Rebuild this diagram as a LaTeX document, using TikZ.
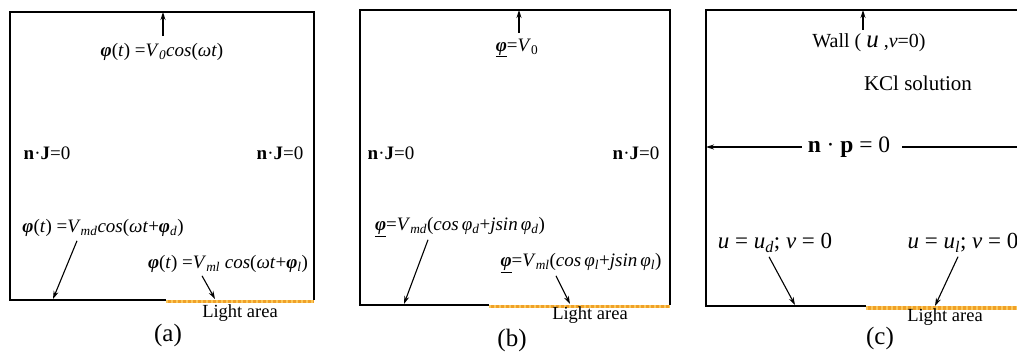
\documentclass[tikz,border=0pt]{standalone}
\usepackage{fontspec}
\setmainfont{Liberation Serif}
\usetikzlibrary{arrows.meta}
\newcommand{\vphi}{\textbf{\textit{φ}}}
\newcommand{\lo}[1]{\textsubscript{\textit{#1}}}

\begin{document}
\begin{tikzpicture}[x=1pt,y=-1pt,font=\fontsize{19}{22}\selectfont,
    every node/.style={inner sep=0pt},
    wall/.style={line width=1.5pt},
    pointer/.style={-{Stealth[length=8pt,width=5pt]},line width=1.1pt},
    light/.style={line width=3.5pt,draw={rgb,255:red,240;green,160;blue,40}},
    lightdots/.style={line width=3.5pt,draw={rgb,255:red,250;green,200;blue,90},
      dash pattern=on 2pt off 3pt},
    area/.style={font=\fontsize{18.5}{22}\selectfont},
    caption/.style={font=\fontsize{25}{29}\selectfont}]
  \useasboundingbox (0,0) rectangle (1017,352);

  % (a)
  \draw[wall] (166,300) -- (10,300) -- (10,12) -- (314,12) -- (314,300);
  \draw[light] (166,301.5) -- (314,301.5);
  \draw[lightdots] (166,301.5) -- (314,301.5);
  \coordinate (topA) at (163,12);
  \coordinate (darkA) at (53,299);
  \coordinate (lightA) at (215,299);
  \node (srcA) at (162,52) {\vphi(\textit{t}) =\textit{V}\lo{0}\textit{cos}(\textit{ωt})};
  \node (lwA) at (47,153) {\textbf{n}·\textbf{J}=0};
  \node (rwA) at (280,153) {\textbf{n}·\textbf{J}=0};
  \node (mdA) at (103,228) {\vphi(\textit{t}) =\textit{V}\lo{md}\textit{cos}(\textit{ωt}+\vphi\lo{d})};
  \node (mlA) at (228,264) {\vphi(\textit{t}) =\textit{V}\lo{ml} \textit{cos}(\textit{ωt}+\vphi\lo{l})};
  \node[area] (laA) at (240,313) {Light area};
  \node[caption] (capA) at (168,335) {(a)};
  \draw[pointer] ([yshift=7pt]srcA.north -| topA) -- (topA);
  \draw[pointer] ([xshift=-26pt,yshift=-4pt]mdA.south) -- (darkA);
  \draw[pointer] ([xshift=-26pt,yshift=-3pt]mlA.south) -- (lightA);

  % (b)
  \draw[wall] (489,305) -- (360,305) -- (360,10) -- (670,10) -- (670,305);
  \draw[light] (489,306.5) -- (670,306.5);
  \draw[lightdots] (489,306.5) -- (670,306.5);
  \coordinate (topB) at (519,10);
  \coordinate (darkB) at (404,304);
  \coordinate (lightB) at (570,304);
  \node (srcB) at (517,48) {\underline{\vphi}=\textit{V}\textsubscript{0}};
  \node (lwB) at (391,153) {\textbf{n}·\textbf{J}=0};
  \node (rwB) at (636,153) {\textbf{n}·\textbf{J}=0};
  \node (mdB) at (460,227) {\underline{\vphi}=\textit{V}\lo{md}(\textit{cos}\,\textit{φ}\lo{d}+\textit{jsin}\,\textit{φ}\lo{d})};
  \node (mlB) at (581,263) {\underline{\vphi}=\textit{V}\lo{ml}(\textit{cos}\,\textit{φ}\lo{l}+\textit{jsin}\,\textit{φ}\lo{l})};
  \node[area] (laB) at (590,315) {Light area};
  \node[caption] (capB) at (512,340) {(b)};
  \draw[pointer] ([yshift=6pt]srcB.north -| topB) -- (topB);
  \draw[pointer] ([xshift=-32pt,yshift=-3pt]mdB.south) -- (darkB);
  \draw[pointer] ([xshift=-25pt,yshift=-3pt]mlB.south) -- (lightB);

  % (c)
  \draw[wall] (866,306) -- (706,306) -- (706,10) -- (1017,10);
  \draw[light] (866,308) -- (1017,308);
  \draw[lightdots] (866,308) -- (1017,308);
  \coordinate (topC) at (863,10);
  \coordinate (leftC) at (706,147);
  \coordinate (rightC) at (1017,147);
  \coordinate (darkC) at (795,305);
  \coordinate (lightC) at (935,306);
  \node (wallC) at (869,43) {\fontsize{20}{23}\selectfont Wall ( \textit{\fontsize{25}{25}\selectfont u} ,\textit{v}=0)};
  \node[font=\fontsize{21}{24}\selectfont] (kclC) at (918,83) {KCl solution};
  \node[font=\fontsize{23.5}{27}\selectfont] (npC) at (849,147) {\textbf{n} · \textbf{p} = 0};
  \node[font=\fontsize{23}{27}\selectfont] (udC) at (775,243) {\textit{u} = \textit{u}\lo{d}; \textit{v} = 0};
  \node[font=\fontsize{23}{27}\selectfont] (ulC) at (963,243) {\textit{u} = \textit{u}\lo{l}; \textit{v} = 0};
  \node[area] (laC) at (945,317) {Light area};
  \node[caption] (capC) at (880,338) {(c)};
  \draw[pointer] ([yshift=4pt]wallC.north -| topC) -- (topC);
  \draw[pointer] ([xshift=-6pt]npC.west) -- (leftC);
  \draw[line width=1.1pt] ([xshift=12pt]npC.east) -- (rightC);
  \draw[pointer] ([xshift=-6pt,yshift=-4pt]udC.south) -- (darkC);
  \draw[pointer] ([xshift=-5pt,yshift=-4pt]ulC.south) -- (lightC);
\end{tikzpicture}
\end{document}
